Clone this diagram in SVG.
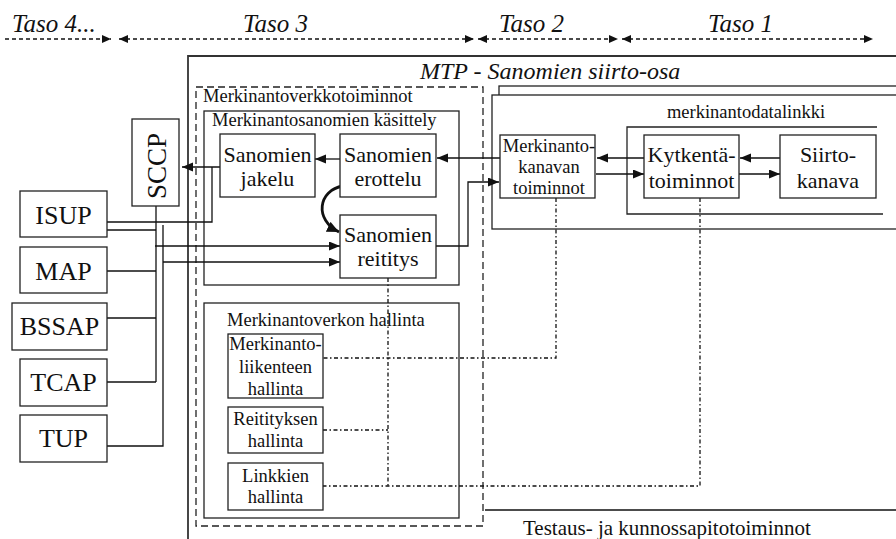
<svg xmlns="http://www.w3.org/2000/svg" width="896" height="539" viewBox="0 0 896 539">
<style>
text{font-family:"Liberation Serif","Times New Roman",serif;fill:#111}
.it{font-style:italic;font-size:25px}
.box{fill:#fff;stroke:#222;stroke-width:1.3}
.frame{fill:none;stroke:#222;stroke-width:1.3}
.big{fill:none;stroke:#333;stroke-width:1.8}
.ln{fill:none;stroke:#111;stroke-width:1.3}
.arr{fill:none;stroke:#111;stroke-width:1.3;marker-end:url(#ah)}
.dd{fill:none;stroke:#111;stroke-width:1.3;stroke-dasharray:4 2.5 1.5 2.5}
.hd{fill:none;stroke:#111;stroke-width:1.3;stroke-dasharray:4 3;marker-end:url(#hh);marker-start:url(#hh)}
.t22{font-size:22px;text-anchor:middle}
.t19{font-size:18.5px;text-anchor:middle}
.t26{font-size:26px;text-anchor:middle}
.s18{font-size:18.5px}
</style>
<defs>
<marker id="ah" markerUnits="userSpaceOnUse" markerWidth="12" markerHeight="10" refX="11" refY="4.5" orient="auto">
<path d="M0,0 L11,4.5 L0,9 z" fill="#111"/>
</marker>
<marker id="hh" markerUnits="userSpaceOnUse" markerWidth="10" markerHeight="9" refX="9" refY="4" orient="auto-start-reverse">
<path d="M0,0 L9,4 L0,8 z" fill="#111"/>
</marker>
<marker id="ahb" markerUnits="userSpaceOnUse" markerWidth="14" markerHeight="12" refX="12" refY="5.5" orient="auto">
<path d="M0,0 L12,5.5 L0,11 z" fill="#111"/>
</marker>
</defs>

<g id="header">
<path d="M5,39 H111" fill="none" stroke="#111" stroke-width="1.3" stroke-dasharray="4 3" marker-end="url(#hh)"/>
<path class="hd" d="M119,39 H474"/>
<path class="hd" d="M478,39 H618"/>
<path class="hd" d="M622,39 H873"/>
<text class="it" x="12" y="32">Taso 4...</text>
<text class="it" x="243" y="32">Taso 3</text>
<text class="it" x="499" y="32">Taso 2</text>
<text class="it" x="708" y="32">Taso 1</text>
</g>

<g id="mtp">
<path class="big" d="M188,545 V56 H900"/>
<text x="420" y="79" style="font-style:italic;font-size:24px">MTP - Sanomien siirto-osa</text>
</g>

<g id="signalling-link-functions">
<rect class="box" x="499" y="86" width="420" height="140"/>
<rect class="box" x="492" y="95" width="420" height="134"/>
<path class="frame" d="M877,127 H627 V214 H883"/>
<text class="s18" x="746" y="118" text-anchor="middle">merkinantodatalinkki</text>
</g>

<g id="network-functions">
<rect x="196" y="87" width="287" height="439" fill="none" stroke="#222" stroke-width="1.3" stroke-dasharray="7 4"/>
<text class="s18" x="203" y="102">Merkinantoverkkotoiminnot</text>
</g>

<g id="message-handling">
<rect class="frame" x="204" y="111" width="255" height="174"/>
<text class="s18" x="212" y="126">Merkinantosanomien käsittely</text>
</g>

<g id="network-management">
<rect class="frame" x="204" y="303" width="255" height="215"/>
<text class="s18" x="227" y="326">Merkinantoverkon hallinta</text>
</g>

<g id="testaus">
<path class="ln" d="M485,510 H900"/>
<text x="523" y="535" style="font-size:21px">Testaus- ja kunnossapitotoiminnot</text>
</g>

<g id="connectors">
<path class="arr" d="M220,167 H182"/>
<path class="ln" d="M212,167 V222 H107"/>
<path class="ln" d="M107,230 H156"/>
<path class="ln" d="M156,206 V382"/>
<path class="ln" d="M107,271 H156"/>
<path class="ln" d="M107,318 H156"/>
<path class="ln" d="M107,382 H156"/>
<path class="ln" d="M163,225 V446 H107"/>
<path class="arr" d="M155,246 H340"/>
<path class="arr" d="M163,262 H340"/>
<path class="arr" d="M340,159 H315"/>
<path d="M343,186 C318,190 314,220 339,232" fill="none" stroke="#111" stroke-width="2.8" marker-end="url(#ahb)"/>
<path class="arr" d="M500,158 H437"/>
<path class="arr" d="M436,246 H468 V182 H499"/>
<path class="arr" d="M644,158 H597"/>
<path class="arr" d="M596,174 H644"/>
<path class="arr" d="M780,158 H740"/>
<path class="arr" d="M739,174 H780"/>
<path class="dd" d="M388,278 V486"/>
<path class="dd" d="M556,198 V358 H323"/>
<path class="dd" d="M700,198 V486 H323"/>
<path class="dd" d="M323,430 H388"/>
</g>

<g id="ISUP"><rect class="box" x="20" y="191" width="87" height="46"/><text class="t26" x="63.5" y="224">ISUP</text></g>
<g id="MAP"><rect class="box" x="20" y="247" width="87" height="46"/><text class="t26" x="63.5" y="280">MAP</text></g>
<g id="BSSAP"><rect class="box" x="12" y="303" width="95" height="47"/><text class="t26" x="59.5" y="335">BSSAP</text></g>
<g id="TCAP"><rect class="box" x="20" y="359" width="87" height="47"/><text class="t26" x="63.5" y="391">TCAP</text></g>
<g id="TUP"><rect class="box" x="20" y="415" width="87" height="47"/><text class="t26" x="63.5" y="447">TUP</text></g>
<g id="SCCP"><rect class="box" x="132" y="119" width="47" height="87"/><text class="t26" transform="translate(166,166) rotate(-90)" style="font-size:27px">SCCP</text></g>

<g id="jakelu"><rect class="box" x="220" y="134" width="95" height="63"/><text class="t22" x="267.5" y="162">Sanomien</text><text class="t22" x="267.5" y="186">jakelu</text></g>
<g id="erottelu"><rect class="box" x="340" y="134" width="96" height="63"/><text class="t22" x="388" y="162">Sanomien</text><text class="t22" x="388" y="186">erottelu</text></g>
<g id="reititys"><rect class="box" x="340" y="215" width="96" height="63"/><text class="t22" x="388" y="242">Sanomien</text><text class="t22" x="388" y="266">reititys</text></g>

<g id="kanava"><rect class="box" x="500" y="135" width="95" height="63"/><text class="t19" x="549" y="152">Merkinanto-</text><text class="t19" x="549" y="173">kanavan</text><text class="t19" x="549" y="194">toiminnot</text></g>
<g id="kytkenta"><rect class="box" x="644" y="135" width="95" height="63"/><text class="t22" x="691.5" y="162">Kytkentä-</text><text class="t22" x="691.5" y="188">toiminnot</text></g>
<g id="siirto"><rect class="box" x="780" y="135" width="96" height="63"/><text class="t22" x="828" y="162">Siirto-</text><text class="t22" x="828" y="188">kanava</text></g>

<g id="liikenne"><rect class="box" x="228" y="334" width="95" height="64"/><text class="t19" x="275.5" y="350">Merkinanto-</text><text class="t19" x="275.5" y="373">liikenteen</text><text class="t19" x="275.5" y="395">hallinta</text></g>
<g id="reitityksen"><rect class="box" x="228" y="407" width="95" height="46"/><text class="t19" x="275.5" y="425">Reitityksen</text><text class="t19" x="275.5" y="447">hallinta</text></g>
<g id="linkkien"><rect class="box" x="228" y="463" width="95" height="47"/><text class="t19" x="275.5" y="482">Linkkien</text><text class="t19" x="275.5" y="503">hallinta</text></g>
</svg>
